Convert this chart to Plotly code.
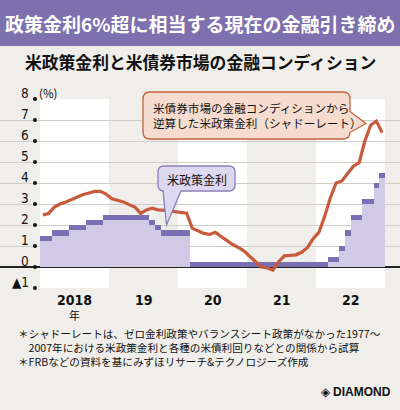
import plotly.graph_objects as go

W, H = 400, 410

# ---------------- data ----------------
year_labels = ["2018", "19", "20", "21", "22"]
year_suffix = "年"
# monthly, Jan 2018 .. Dec 2022 : lower bound of the Fed funds target range (%)
policy_lower = [1.25, 1.25, 1.5, 1.5, 1.5, 1.75, 1.75, 1.75, 2.0, 2.0, 2.0, 2.25,
                2.25, 2.25, 2.25, 2.25, 2.25, 2.25, 2.25, 2.0, 1.75, 1.5, 1.5, 1.5,
                1.5, 1.5, 0, 0, 0, 0, 0, 0, 0, 0, 0, 0,
                0, 0, 0, 0, 0, 0, 0, 0, 0, 0, 0, 0,
                0, 0, 0.25, 0.25, 0.75, 1.5, 2.25, 2.25, 3.0, 3.0, 3.75, 4.25]
policy_range_width = [0.25] * 60
# shadow rate (%), monthly
shadow_rate = [2.48, 2.55, 2.85, 3.0, 3.1, 3.22, 3.33, 3.45, 3.52, 3.6, 3.6, 3.47,
               3.25, 3.17, 3.1, 2.97, 2.85, 2.55, 2.72, 2.8, 2.72, 2.71, 2.68, 2.65,
               2.62, 2.56, 1.84, 1.72, 1.6, 1.55, 1.65, 1.45, 1.25, 1.07, 0.93, 0.76,
               0.5, 0.25, 0.0, -0.05, -0.15, 0.25, 0.53, 0.55, 0.58, 0.7, 0.92, 1.35,
               1.65, 2.4, 3.3, 4.0, 4.1, 4.45, 4.8, 4.97, 6.0, 6.75, 6.95, 6.4]
y_tick_values = [-1, 0, 1, 2, 3, 4, 5, 6, 7, 8]
y_tick_labels = ["▲1", "0", "1", "2", "3", "4", "5", "6", "7", "8"]

title_text = "政策金利6%超に相当する現在の金融引き締め"
subtitle_text = "米政策金利と米債券市場の金融コンディション"
shadow_label = ["米債券市場の金融コンディションから", "逆算した米政策金利（シャドーレート）"]
policy_label = "米政策金利"
notes = ["＊シャドーレートは、ゼロ金利政策やバランスシート政策がなかった1977〜",
         "　2007年における米政策金利と各種の米債利回りなどとの関係から試算",
         "＊FRBなどの資料を基にみずほリサーチ&テクノロジーズ作成"]

# ---------------- styles ----------------
BG = "#efeeea"
BAND = "#ffffff"
BANNER = "#7d70ae"
LIGHT = "#d0cae7"
DARK = "#7b6fb3"
RED = "#c85b3b"
GRID = "#cfcdc6"
JP = "Noto Sans CJK JP"
NUM = "Liberation Sans Narrow, DejaVu Sans Condensed, sans-serif"

months = list(range(len(policy_lower)))

# layout geometry (pixels)
PL, PR = 0, 400          # plot area spans full width
PT, PB = 99, 288         # y=8 .. y=-1
X_START, X_END = 40, 385  # Jan 2018 start .. Dec 2022 end
per_m = (X_END - X_START) / 60.0
x_range = [-0.5 - (X_START - PL) / per_m, 59.5 + (PR - X_END) / per_m]


def px(x, y):
    return x / W, (PB - y) / (PB - PT)


def bubble(x0, y0, x1, y1, r, side, a, b, tip):
    def P(x, y):
        u, v = px(x, y)
        return f"{u:.5f},{v:.5f}"
    s = f"M{P(x0 + r, y0)} L{P(x1 - r, y0)} Q{P(x1, y0)} {P(x1, y0 + r)} "
    if side == "right":
        s += f"L{P(x1, a)} L{P(*tip)} L{P(x1, b)} "
    s += f"L{P(x1, y1 - r)} Q{P(x1, y1)} {P(x1 - r, y1)} "
    if side == "bottom":
        s += f"L{P(b, y1)} L{P(*tip)} L{P(a, y1)} "
    s += f"L{P(x0 + r, y1)} Q{P(x0, y1)} {P(x0, y1 - r)} L{P(x0, y0 + r)} Q{P(x0, y0)} {P(x0 + r, y0)} Z"
    return s


fig = go.Figure()

fig.add_trace(go.Bar(x=months, y=policy_lower, width=1, marker=dict(color=LIGHT, line=dict(width=0)),
                     hoverinfo="skip", showlegend=False))
fig.add_trace(go.Bar(x=months, y=policy_range_width, base=policy_lower, width=1,
                     marker=dict(color=DARK, line=dict(width=0)), hoverinfo="skip", showlegend=False))
fig.add_trace(go.Scatter(x=months, y=shadow_rate, mode="lines", line=dict(color=RED, width=3.2),
                         hoverinfo="skip", showlegend=False))
# axis dots
dot_x = x_range[0] + (35 - PL) / per_m
fig.add_trace(go.Scatter(x=[dot_x] * len(y_tick_values), y=y_tick_values, mode="markers",
                         marker=dict(color="#111", size=4), cliponaxis=False,
                         hoverinfo="skip", showlegend=False))

shapes = []
# white year bands
for k in range(0, len(year_labels), 2):
    shapes.append(dict(type="rect", xref="x", yref="y", x0=12 * k - 0.5, x1=12 * k + 11.5,
                       y0=-1, y1=8, fillcolor=BAND, line=dict(width=0), layer="below"))
# title banner
u0, v0 = px(0, 0)
u1, v1 = px(400, 46)
shapes.append(dict(type="rect", xref="paper", yref="paper", x0=u0, x1=u1, y0=v1, y1=v0,
                   fillcolor=BANNER, line=dict(width=0), layer="above"))
# bubbles
shapes.append(dict(type="path", xref="paper", yref="paper",
                   path=bubble(143, 92, 350, 139, 7, "right", 111.5, 132.5, (366, 123.5)),
                   fillcolor="#f6dccf", line=dict(color="#c8603f", width=1.3), layer="above"))
shapes.append(dict(type="path", xref="paper", yref="paper",
                   path=bubble(158, 166, 235, 191, 6, "bottom", 163, 181, (166.5, 225)),
                   fillcolor="#dcd8ef", line=dict(color="#8a80b8", width=1.3), layer="above"))

ann = []


def text(x, y, t, size, color="#111", family=JP, xanchor="center", yanchor="middle", align="center"):
    u, v = px(x, y)
    ann.append(dict(x=u, y=v, xref="paper", yref="paper", text=t, showarrow=False,
                    font=dict(size=size, color=color, family=family), align=align,
                    xanchor=xanchor, yanchor=yanchor, borderpad=0))


text(200, 23.5, f"<b>{title_text}</b>", 19, color="#ffffff")
text(200, 62, f"<b>{subtitle_text}</b>", 16.8, color="#111")
text(152, 115, "<br>".join(shadow_label), 11.6, xanchor="left", align="left")
text(196.5, 179, policy_label, 12)

# y labels
for v, lab in zip(y_tick_values, y_tick_labels):
    yy = PB - (v + 1) * (PB - PT) / 9.0
    text(30, yy - 6.5, lab, 13.5, family=NUM, xanchor="right")
text(38, 92.5, "(%)", 11.5, xanchor="left")

# x labels
for k, lab in enumerate(year_labels):
    xx = X_START + (12 * k + 6) * per_m
    text(xx, 299.5, f"<b>{lab}</b>", 14, family=NUM)
text(X_START + 6 * per_m, 314.5, year_suffix, 11)

# notes
text(17, 347.5, "<br>".join(notes), 10.6, xanchor="left", align="left")

# logo
text(326, 392, "◈", 12, family="DejaVu Sans")
text(332, 392, "<b>DIAMOND</b>", 12, family="Liberation Sans, Arial, sans-serif", xanchor="left")

fig.update_layout(
    width=W, height=H,
    margin=dict(l=PL, r=W - PR, t=PT, b=H - PB, pad=0),
    paper_bgcolor=BG, plot_bgcolor=BG,
    barmode="overlay", bargap=0,
    shapes=shapes, annotations=ann,
    xaxis=dict(range=x_range, showgrid=False, zeroline=False, showticklabels=False,
               ticks="", fixedrange=True),
    yaxis=dict(range=[-1, 8], tickvals=[0, 1, 2, 3, 4, 5, 6, 7, 8], showgrid=True,
               gridcolor=GRID, gridwidth=1, showticklabels=False, ticks="",
               zeroline=True, zerolinecolor="#222", zerolinewidth=1.5, fixedrange=True),
)

fig.write_html("out.html", config=dict(displayModeBar=False),
               post_script="document.body.style.margin='0px';document.body.style.background='" + BG + "';")
